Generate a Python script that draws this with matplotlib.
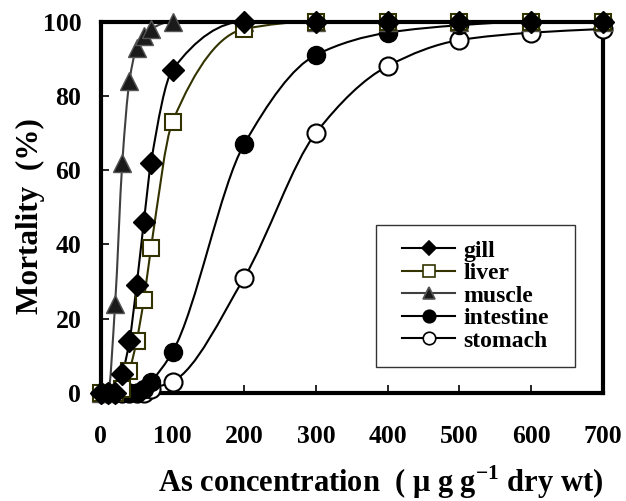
import numpy as np
import matplotlib
matplotlib.use("Agg")
import matplotlib.pyplot as plt
from matplotlib.path import Path
from matplotlib.patches import PathPatch, Rectangle

plt.rcParams['font.family'] = ['Liberation Serif', 'DejaVu Serif']
plt.rcParams['font.weight'] = 'bold'
plt.rcParams['mathtext.fontset'] = 'custom'
plt.rcParams['mathtext.rm'] = 'Liberation Serif:bold'
plt.rcParams['mathtext.bf'] = 'Liberation Serif:bold'

# dose (x) and mortality (%)
conc = [0, 10, 20, 30, 40, 50, 60, 70, 100, 200, 300, 400, 500, 600, 700]
gill = [0, 0, 0, 5, 14, 29, 46, 62, 87, 100, 100, 100, 100, 100, 100]
liver = [0, 0, 0, 1, 6, 14, 25, 39, 73, 98, 100, 100, 100, 100, 100]
muscle = [0, 0, 24, 62, 84, 93, 96, 98, 100, 100, 100, 100, 100, 100, 100]
intestine = [0, 0, 0, 0, 0, 0, 1, 3, 11, 67, 91, 97, 99, 100, 100]
stomach = [0, 0, 0, 0, 0, 0, 0, 1, 3, 31, 70, 88, 95, 97, 98]


def smooth_path(x, y):
    # smoothed line through the points (monotone cubic, drawn as bezier)
    x = np.asarray(x, float)
    y = np.asarray(y, float)
    h = np.diff(x)
    d = np.diff(y) / h
    n = len(x)
    m = np.zeros(n)
    m[0], m[-1] = d[0], d[-1]
    for k in range(1, n - 1):
        if d[k - 1] * d[k] <= 0:
            m[k] = 0.0
        else:
            w1 = 2 * h[k] + h[k - 1]
            w2 = h[k] + 2 * h[k - 1]
            m[k] = (w1 + w2) / (w1 / d[k - 1] + w2 / d[k])
    verts = [(x[0], y[0])]
    codes = [Path.MOVETO]
    for k in range(n - 1):
        verts += [(x[k] + h[k] / 3, y[k] + m[k] * h[k] / 3),
                  (x[k + 1] - h[k] / 3, y[k + 1] - m[k + 1] * h[k] / 3),
                  (x[k + 1], y[k + 1])]
        codes += [Path.CURVE4] * 3
    return Path(verts, codes)


fig = plt.figure(figsize=(6.26, 5.01), dpi=100)
ax = fig.add_axes([0.161, 0.216, 0.802, 0.741])

series = [
    ('gill', gill, 3.4, dict(color='black', marker='D', mfc='black', mec='black', ms=11.5, lms=7.5)),
    ('liver', liver, 3.3, dict(color='#333300', marker='s', mfc='white', mec='#333300', ms=11.5, lms=8, mew=1.5)),
    ('muscle', muscle, 3.2, dict(color='#404040', marker='^', mfc='#1a1a1a', mec='#555555', ms=13, lms=9)),
    ('intestine', intestine, 3.1, dict(color='black', marker='o', mfc='black', mec='black', ms=13, lms=9)),
    ('stomach', stomach, 3.0, dict(color='black', marker='o', mfc='white', mec='black', ms=13, lms=9, mew=1.5)),
]

for name, vals, z, st in series:
    ax.add_patch(PathPatch(smooth_path(conc, vals), fill=False, edgecolor=st['color'],
                           lw=1.5, clip_on=False, zorder=2))
    ax.plot(conc, vals, linestyle='none', marker=st['marker'], markerfacecolor=st['mfc'],
            markeredgecolor=st['mec'], markersize=st['ms'], markeredgewidth=st.get('mew', 1.0),
            clip_on=False, zorder=z)
    # legend handle
    ax.plot([], [], color=st['color'], lw=1.5, marker=st['marker'], markerfacecolor=st['mfc'],
            markeredgecolor=st['mec'], markersize=st['lms'], markeredgewidth=1.2, label=name)

ax.set_xlim(0, 700)
ax.set_ylim(0, 100)
ax.set_xticks(range(0, 701, 100))
ax.set_yticks(range(0, 101, 20))
ax.tick_params(direction='in', length=6, width=1.2, labelsize=18.5)
ax.tick_params(axis='x', pad=23)
ax.tick_params(axis='y', pad=14)
for lab in ax.get_xticklabels() + ax.get_yticklabels():
    lab.set_fontweight('bold')
for s in ax.spines.values():
    s.set_linewidth(3)

ax.set_xlabel(r'As concentration  ( μ g g$^{\mathbf{-1}}$ dry wt)', fontsize=22,
              fontweight='bold', va='baseline')
ax.xaxis.set_label_coords(0.558, -0.266)
ax.set_ylabel('Mortality  (%)', fontsize=22.5, fontweight='bold')
ax.yaxis.set_label_coords(-0.112, 0.477)

# legend box
bx0, by0, bx1, by1 = 0.548, 0.070, 0.944, 0.452
ax.add_patch(Rectangle((bx0, by0), bx1 - bx0, by1 - by0, transform=ax.transAxes,
                       fill=True, facecolor='white', edgecolor='#333333', lw=1.0, zorder=4))
leg = ax.legend(loc='center', bbox_to_anchor=((bx0 + bx1) / 2, (by0 + by1) / 2),
                fontsize=17, frameon=False, handlelength=2.25,
                labelspacing=0.04, borderpad=0.0, handletextpad=0.34)
leg.set_zorder(5)
for t in leg.get_texts():
    t.set_fontweight('bold')

fig.savefig('out.png', dpi=100)
